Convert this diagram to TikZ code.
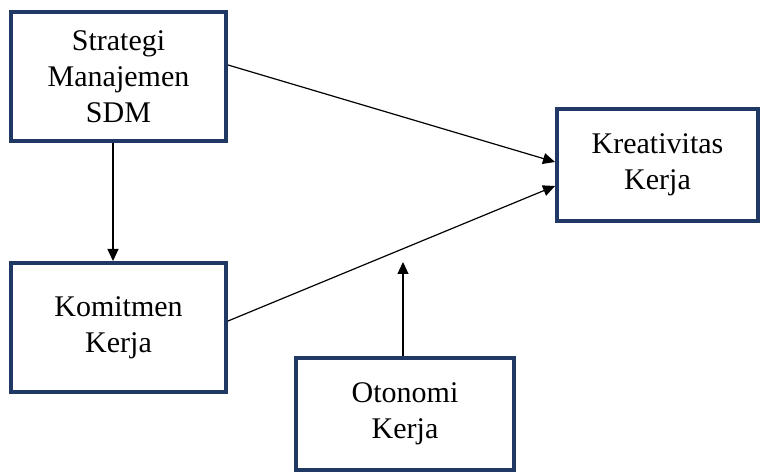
\documentclass[tikz,border=0pt]{standalone}
\usepackage{fontspec}
\setmainfont{Liberation Serif}
\usetikzlibrary{arrows.meta,positioning}
\definecolor{navy}{RGB}{31,56,100}

\begin{document}
\begin{tikzpicture}[
                x=0.5pt, y=-0.5pt,
                box/.style={draw=navy, line width=2pt, fill=white,
                            minimum width=107.5pt, minimum height=64.5pt,
                            align=center, font=\fontsize{15}{18}\selectfont},
                link/.style={-{Triangle[length=6pt,width=5.5pt]}, line width=0.6pt}
            ]
            \useasboundingbox (0,0) rectangle (765,475);
            \node[box] (str) at (118.5,76.5) {Strategi\\Manajemen\\SDM};
            \node[box, minimum width=100.5pt, minimum height=56pt] (kre) at (657.5,165) {Kreativitas\\Kerja};
            \node[box] (kom) at (118.5,327.5) {Komitmen\\Kerja};
            \node[box, minimum width=109pt, minimum height=56pt] (oto) at (405,414) {Otonomi\\Kerja};
            \coordinate (oto end) at (403,262);
            \draw[link] ([yshift=5.75pt]str.east) -- ([yshift=1.5pt]kre.west);
            \draw[link] ([yshift=3.25pt]kom.east) -- ([yshift=-10.5pt]kre.west);
            \draw[link] ([xshift=-2.75pt]str.south) -- ([xshift=-2.75pt]kom.north);
            \draw[link] (oto.north -| oto end) -- (oto end);
            \end{tikzpicture}
\end{document}
